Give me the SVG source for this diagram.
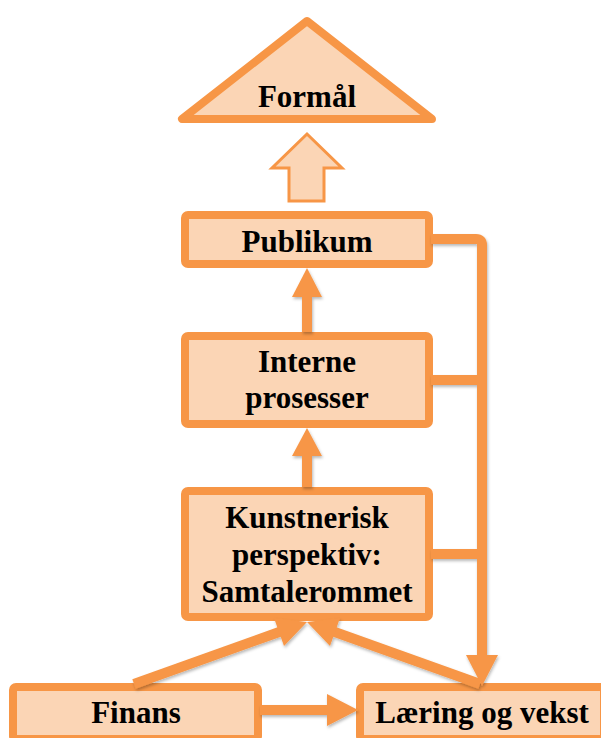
<svg xmlns="http://www.w3.org/2000/svg" width="601" height="738" viewBox="0 0 601 738">
  <defs>
    <style>
      .box { fill: #FBD5B5; stroke: #F79646; stroke-width: 8; }
      .lbl { font-family: "Liberation Serif", "Times New Roman", serif; font-weight: bold; font-size: 31px; fill: #000; text-anchor: middle; }
      .wire { fill: none; stroke: #F79646; stroke-width: 10; }
      .head { fill: #F79646; stroke: none; }
    </style>
    <filter id="shadow" x="-10%" y="-10%" width="120%" height="120%">
      <feDropShadow dx="1" dy="2" stdDeviation="1.5" flood-color="#000" flood-opacity="0.28"/>
    </filter>
  </defs>
  <rect width="601" height="738" fill="#fff"/>

  <!-- Formål (goal) triangle -->
  <g id="formal">
    <polygon points="307,21 182,119 432,119" fill="#FBD5B5" stroke="#F79646" stroke-width="8" stroke-linejoin="round"/>
    <text class="lbl" x="307" y="107">Formål</text>
  </g>

  <!-- hollow up arrow -->
  <g id="up-arrow">
    <polygon points="307,134 342,168 324,168 324,201 289,201 289,168 272,168" fill="#FBD5B5" stroke="#F79646" stroke-width="3"/>
  </g>

  <g id="publikum">
    <rect class="box" x="185" y="215" width="244" height="49" rx="3"/>
    <text class="lbl" x="307" y="252">Publikum</text>
  </g>

  <g id="interne">
    <rect class="box" x="185" y="336" width="244" height="88" rx="3"/>
    <text class="lbl" x="307" y="372">Interne</text>
    <text class="lbl" x="307" y="408">prosesser</text>
  </g>

  <g id="kunstnerisk">
    <rect class="box" x="185" y="491" width="244" height="126" rx="3"/>
    <text class="lbl" x="307" y="528">Kunstnerisk</text>
    <text class="lbl" x="307" y="565">perspektiv:</text>
    <text class="lbl" x="307" y="602">Samtalerommet</text>
  </g>

  <g id="finans">
    <rect class="box" x="13" y="687" width="245" height="52" rx="3"/>
    <text class="lbl" x="136" y="723">Finans</text>
  </g>

  <g id="laering">
    <rect class="box" x="360" y="687" width="244" height="52" rx="3"/>
    <text class="lbl" x="482" y="723">Læring og vekst</text>
  </g>

  <!-- connectors -->
  <g id="connectors" filter="url(#shadow)">
    <!-- Interne -> Publikum -->
    <line class="wire" x1="307" y1="332" x2="307" y2="294"/>
    <polygon class="head" points="307,268 322,297 292,297"/>
    <!-- Kunstnerisk -> Interne -->
    <line class="wire" x1="307" y1="487" x2="307" y2="452"/>
    <polygon class="head" points="307,428 322,456 292,456"/>
    <!-- feedback rail: Publikum, Interne, Kunstnerisk -> Læring og vekst -->
    <path class="wire" d="M431,239 H476 Q482,239 482,245 V658" />
    <line class="wire" x1="431" y1="380" x2="482" y2="380"/>
    <line class="wire" x1="431" y1="554" x2="482" y2="554"/>
    <polygon class="head" points="482,686 498,655 466,655"/>
    <!-- Finans -> Kunstnerisk -->
    <line class="wire" x1="134" y1="684" x2="282" y2="631"/>
    <polygon class="head" points="307,622 284,646 274,618"/>
    <!-- Læring og vekst -> Kunstnerisk -->
    <line class="wire" x1="480" y1="684" x2="332" y2="631"/>
    <polygon class="head" points="307,622 330,646 340,618"/>
    <!-- Finans -> Læring og vekst -->
    <line class="wire" x1="260" y1="710" x2="330" y2="710"/>
    <polygon class="head" points="358,710 327,694 327,726"/>
  </g>
</svg>
